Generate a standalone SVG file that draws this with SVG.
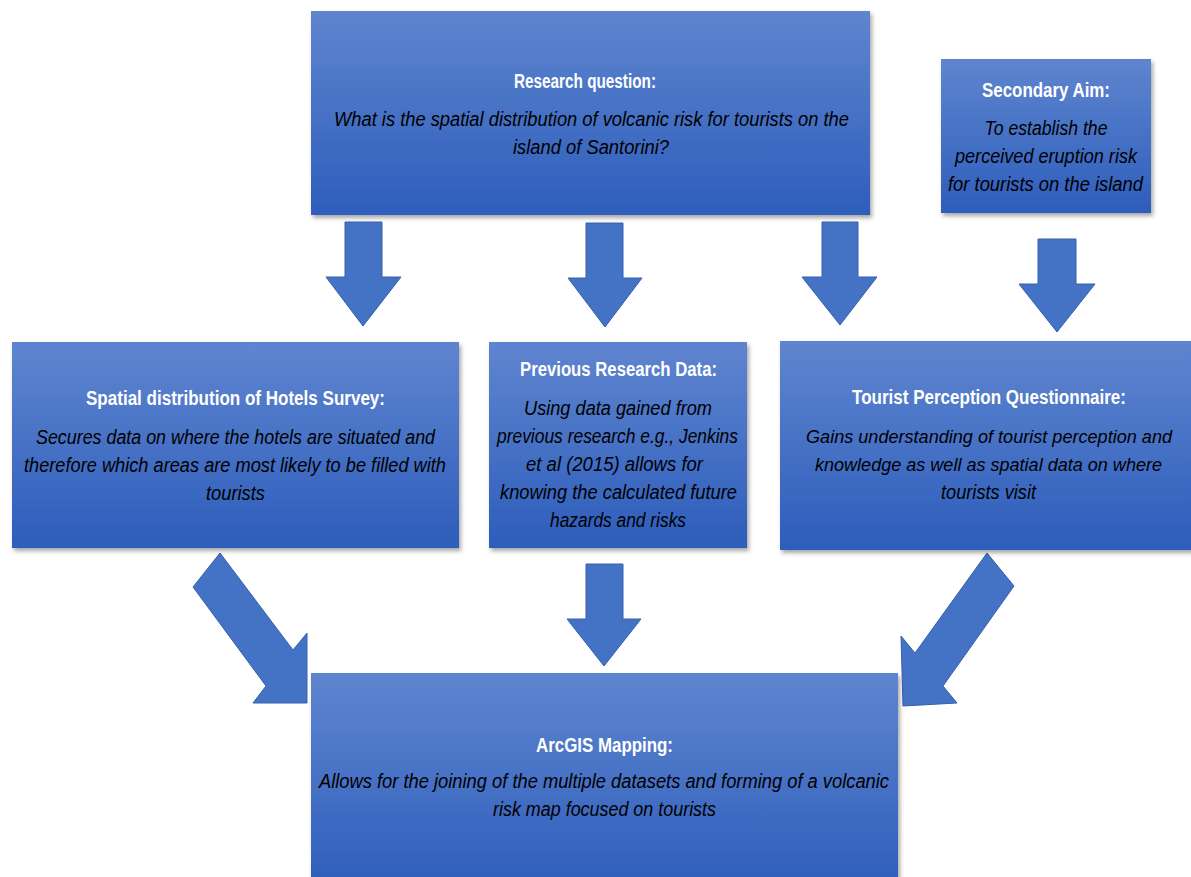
<svg xmlns="http://www.w3.org/2000/svg" width="1191" height="877" viewBox="0 0 1191 877">
<defs>
<linearGradient id="boxg" x1="0" y1="0" x2="0" y2="1">
<stop offset="0" stop-color="#5f85cf"/>
<stop offset="1" stop-color="#2d5dbb"/>
</linearGradient>
<filter id="sh" x="-5%" y="-5%" width="110%" height="115%">
<feDropShadow dx="2" dy="3" stdDeviation="2" flood-color="#000" flood-opacity="0.35"/>
</filter>
<style>
.box{fill:url(#boxg);filter:url(#sh);}
.t{font-family:"Liberation Sans",Arial,sans-serif;font-weight:bold;font-size:20px;fill:#fff;text-anchor:middle;}
.i{font-family:"Liberation Sans",Arial,sans-serif;font-style:italic;font-size:20px;fill:#000;text-anchor:middle;}
.s{font-size:18.5px;}
.arr{fill:#4472c4;stroke:#3660ad;stroke-width:1;stroke-linejoin:miter;}
</style>
</defs>
<rect width="1191" height="877" fill="#fff"/>

<g id="connectors">
<polygon class="arr" points="345,222 382,222 382,277 401,277 363,326 326,277 345,277"/>
<polygon class="arr" points="586,223 623,223 623,278 642,278 605,327 568,278 586,278"/>
<polygon class="arr" points="822,222 858,222 858,277 877,277 840,325 802,277 822,277"/>
<polygon class="arr" points="1038,239 1076,239 1076,284 1095,284 1057,332 1019,284 1038,284"/>
<polygon class="arr" points="586,564 623,564 623,619 641,619 604,666 567,619 586,619"/>
<polygon class="arr" points="193,587 220,553 293,650 307,633 307,703 253,703 266,686"/>
<polygon class="arr" points="987,553 1014,586 943,686 957,703 903,706 901,636 915,653"/>
</g>

<g id="research-question">
<rect class="box" x="311" y="11" width="559" height="204"/>
<text class="t" x="585" y="88" textLength="142" lengthAdjust="spacingAndGlyphs">Research question:</text>
<text class="i" x="591.5" y="126" textLength="515" lengthAdjust="spacingAndGlyphs">What is the spatial distribution of volcanic risk for tourists on the</text>
<text class="i" x="591" y="154" textLength="156" lengthAdjust="spacingAndGlyphs">island of Santorini?</text>
</g>

<g id="secondary-aim">
<rect class="box" x="941" y="59" width="210" height="154"/>
<text class="t" x="1046" y="97" textLength="128" lengthAdjust="spacingAndGlyphs">Secondary Aim:</text>
<text class="i" x="1046" y="135" textLength="123" lengthAdjust="spacingAndGlyphs">To establish the</text>
<text class="i" x="1046" y="163" textLength="182" lengthAdjust="spacingAndGlyphs">perceived eruption risk</text>
<text class="i" x="1045.5" y="191" textLength="195" lengthAdjust="spacingAndGlyphs">for tourists on the island</text>
</g>

<g id="hotels-survey">
<rect class="box" x="12" y="342" width="447" height="206"/>
<text class="t" x="235.5" y="405" textLength="299" lengthAdjust="spacingAndGlyphs">Spatial distribution of Hotels Survey:</text>
<text class="i" x="235.5" y="444" textLength="399" lengthAdjust="spacingAndGlyphs">Secures data on where the hotels are situated and</text>
<text class="i" x="235" y="472" textLength="422" lengthAdjust="spacingAndGlyphs">therefore which areas are most likely to be filled with</text>
<text class="i" x="235.5" y="500" textLength="59" lengthAdjust="spacingAndGlyphs">tourists</text>
</g>

<g id="previous-research">
<rect class="box" x="489" y="342" width="258" height="206"/>
<text class="t" x="618.5" y="376" textLength="197" lengthAdjust="spacingAndGlyphs">Previous Research Data:</text>
<text class="i" x="618" y="415" textLength="188" lengthAdjust="spacingAndGlyphs">Using data gained from</text>
<text class="i" x="617.5" y="443" textLength="241" lengthAdjust="spacingAndGlyphs">previous research e.g., Jenkins</text>
<text class="i" x="614.5" y="471" textLength="177" lengthAdjust="spacingAndGlyphs">et al (2015) allows for</text>
<text class="i" x="618.5" y="499" textLength="237" lengthAdjust="spacingAndGlyphs">knowing the calculated future</text>
<text class="i" x="618" y="527" textLength="136" lengthAdjust="spacingAndGlyphs">hazards and risks</text>
</g>

<g id="tourist-questionnaire">
<rect class="box" x="780" y="341" width="420" height="209"/>
<text class="t" x="989" y="404" textLength="274" lengthAdjust="spacingAndGlyphs">Tourist Perception Questionnaire:</text>
<text class="i s" x="989" y="443" textLength="366" lengthAdjust="spacingAndGlyphs">Gains understanding of tourist perception and</text>
<text class="i s" x="988.5" y="471" textLength="347" lengthAdjust="spacingAndGlyphs">knowledge as well as spatial data on where</text>
<text class="i" x="988.5" y="499" textLength="95" lengthAdjust="spacingAndGlyphs">tourists visit</text>
</g>

<g id="arcgis-mapping">
<rect class="box" x="311" y="673" width="587" height="220"/>
<text class="t" x="604.5" y="752" textLength="137" lengthAdjust="spacingAndGlyphs">ArcGIS Mapping:</text>
<text class="i" x="604" y="788" textLength="570" lengthAdjust="spacingAndGlyphs">Allows for the joining of the multiple datasets and forming of a volcanic</text>
<text class="i" x="604.5" y="816" textLength="223" lengthAdjust="spacingAndGlyphs">risk map focused on tourists</text>
</g>
</svg>
